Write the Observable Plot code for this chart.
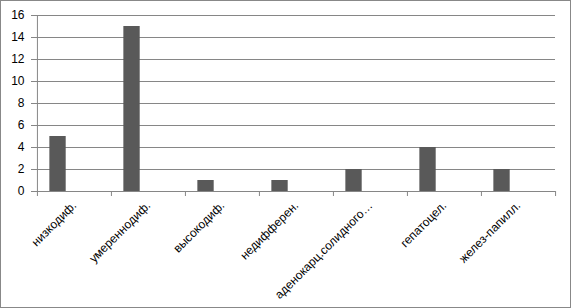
<!DOCTYPE html>
<html>
<head>
<meta charset="utf-8">
<script src="https://cdn.jsdelivr.net/npm/d3@7"></script>
<script src="https://cdn.jsdelivr.net/npm/@observablehq/plot@0.6"></script>
<style>
  html, body { margin: 0; padding: 0; background: #fff; }
  svg { display: block; outline: 1px solid #888; outline-offset: -1px; }
</style>
</head>
<body>
<div id="chart"></div>
<script>
const categories = ["низкодиф.", "умереннодиф.", "высокодиф.", "недифферен.", "аденокарц.солидного…", "гепатоцел.", "желез-папилл."];
const values = [5, 15, 1, 1, 2, 4, 2];
const yTicks = [0, 2, 4, 6, 8, 10, 12, 14, 16];

const data = categories.map((c, i) => ({category: c, value: values[i]}));

const W = 571, H = 308;
const mL = 36, mR = 16, mT = 15, mB = 117;
const bw = (W - mL - mR) / categories.length;
const step = bw / 4.5;           // 3-series cluster with 150% gap, only first series has data
const insetL = step * 0.75;
const insetR = bw - insetL - step;
const font = "Liberation Sans, Arial, sans-serif";

const chart = Plot.plot({
  width: W,
  height: H,
  marginLeft: mL,
  marginRight: mR,
  marginTop: mT,
  marginBottom: mB,
  style: {fontFamily: font, fontSize: "12px", color: "#000", background: "#fff"},
  x: {type: "band", domain: categories, padding: 0, label: null},
  y: {domain: [0, 16], label: null},
  marks: [
    Plot.gridY(yTicks, {stroke: "#868686", strokeOpacity: 1, strokeWidth: 1}),
    Plot.barY(data, {x: "category", y: "value", fill: "#595959", insetLeft: insetL, insetRight: insetR}),
    // vertical value axis line
    Plot.ruleX([categories[0]], {y1: 0, y2: 16, dx: -bw / 2, stroke: "#868686"}),
    // category boundary tick marks
    Plot.ruleX(categories, {y1: 0, y2: 0, dx: -bw / 2, insetBottom: -5, stroke: "#868686"}),
    Plot.ruleX([categories[categories.length - 1]], {y1: 0, y2: 0, dx: bw / 2, insetBottom: -5, stroke: "#868686"}),
    Plot.axisY(yTicks, {tickSize: 5, tickPadding: 7, stroke: "#868686", fill: "#000", fontSize: 12}),
    Plot.axisX({tickSize: 0, tickRotate: -45, tickPadding: 12, fill: "#000", fontSize: 12})
  ]
});
document.getElementById("chart").appendChild(chart);
</script>
</body>
</html>
